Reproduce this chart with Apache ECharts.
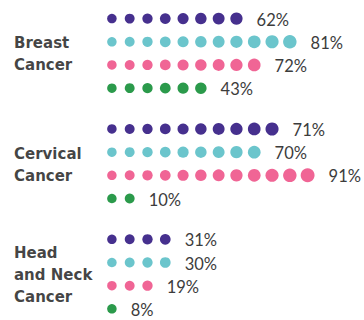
<!DOCTYPE html>
<html>
<head>
<meta charset="utf-8">
<script src="https://cdn.jsdelivr.net/npm/echarts@6/dist/echarts.min.js"></script>
<style>
  html, body { margin: 0; padding: 0; background: #fff; }
  #chart { width: 364px; height: 320px; }
</style>
</head>
<body>
<div id="chart"></div>
<script>
// Cancer groups shown as row blocks
const groupNames = ['Breast\nCancer', 'Cervical\nCancer', 'Head\nand Neck\nCancer'];

// Four measures per group: percentage and number of dots drawn
const purpleValues = [62, 71, 31];
const purpleDots   = [8, 10, 4];
const tealValues   = [81, 70, 30];
const tealDots     = [11, 9, 4];
const pinkValues   = [72, 91, 19];
const pinkDots     = [9, 12, 3];
const greenValues  = [43, 10, 8];
const greenDots    = [6, 2, 1];

const rows = [
  { name: 'Measure 1', color: '#46308e', values: purpleValues, dots: purpleDots },
  { name: 'Measure 2', color: '#6bc5cc', values: tealValues,   dots: tealDots },
  { name: 'Measure 3', color: '#f06595', values: pinkValues,   dots: pinkDots },
  { name: 'Measure 4', color: '#2b9a4b', values: greenValues,  dots: greenDots }
];

// Layout: rows are 1 unit apart, groups are GROUP_STEP units apart
const GROUP_STEP = 4.76;

const chart = echarts.init(document.getElementById('chart'), null, { renderer: 'svg' });

const dotSeries = rows.map((row, r) => {
  const data = [];
  groupNames.forEach((g, gi) => {
    const n = row.dots[gi];
    for (let i = 0; i < n; i++) {
      const last = i === n - 1;
      data.push({
        value: [i, gi * GROUP_STEP + r],
        symbolSize: 9.5 + 0.4 * i,
        label: {
          show: last,
          formatter: row.values[gi] + '%'
        }
      });
    }
  });
  return {
    name: row.name,
    type: 'scatter',
    symbol: 'circle',
    data: data,
    itemStyle: { color: row.color, opacity: 1 },
    label: {
      position: 'right',
      distance: 14,
      offset: [0, 1],
      color: '#3c3c3c',
      fontFamily: 'Lato',
      fontWeight: 'normal',
      fontSize: 16.5
    },
    emphasis: { disabled: true },
    silent: true
  };
});

const groupLabelSeries = {
  name: 'groups',
  type: 'scatter',
  clip: false,
  symbolSize: 0,
  data: groupNames.map((g, gi) => ({ value: [-0.5, gi * GROUP_STEP + 1.5], name: g })),
  label: {
    show: true,
    formatter: p => p.name,
    position: [-89, 1],
    align: 'left',
    verticalAlign: 'middle',
    color: '#111',
    fontFamily: 'DejaVu Sans',
    fontWeight: 'bold',
    fontSize: 15,
    lineHeight: 22
  },
  silent: true
};

chart.setOption({
  animation: false,
  backgroundColor: '#fff',
  grid: { left: 103, right: 3, top: 7, bottom: -2 },
  xAxis: {
    type: 'value', min: -0.5, max: 14,
    show: false, splitLine: { show: false }
  },
  yAxis: {
    type: 'value', min: -0.5, max: 13, inverse: true,
    show: false, splitLine: { show: false }
  },
  series: [...dotSeries, groupLabelSeries]
});
</script>
</body>
</html>
